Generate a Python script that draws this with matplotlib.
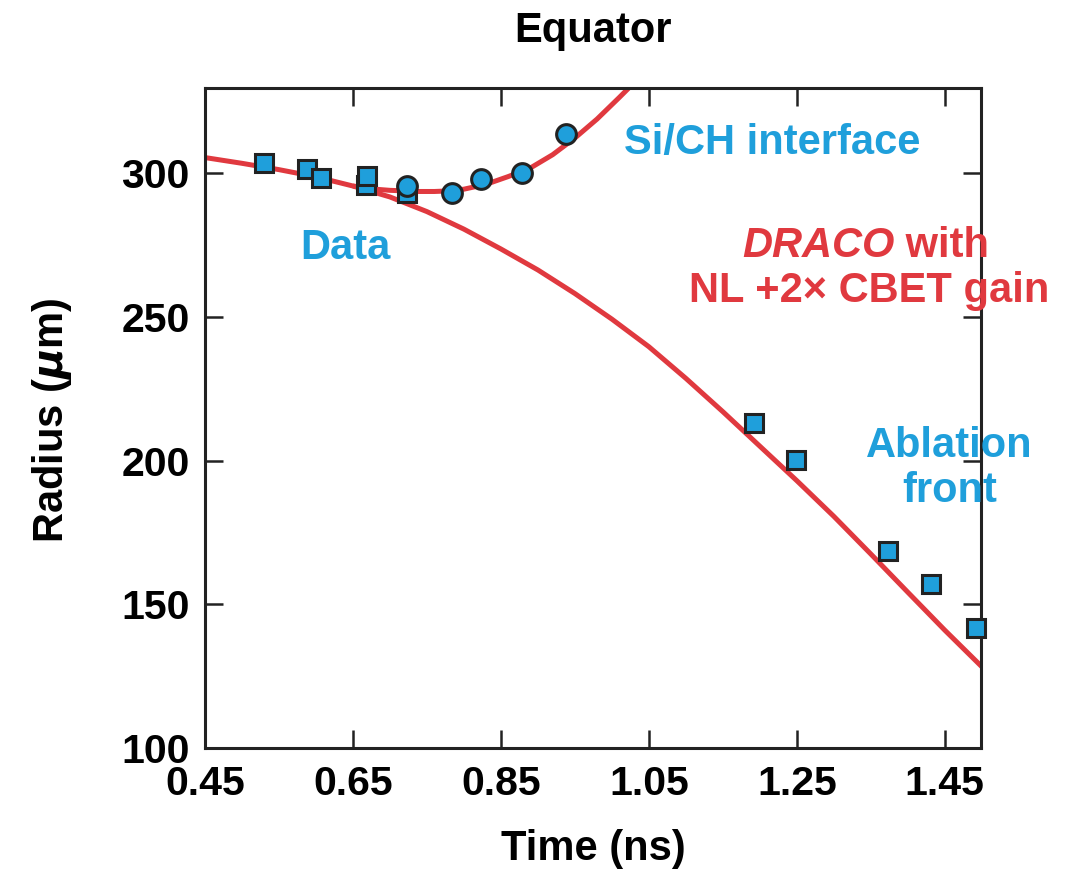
import matplotlib
matplotlib.use("Agg")
import matplotlib.pyplot as plt

# ---- data ----
# DRACO ablation-front curve (ns, um)
model_front_t = [0.45, 0.50, 0.55, 0.60, 0.65, 0.70, 0.75, 0.80, 0.85, 0.90, 0.95,
                 1.00, 1.05, 1.10, 1.15, 1.20, 1.25, 1.30, 1.35, 1.40, 1.45, 1.50]
model_front_r = [305.4, 303.4, 301.2, 298.7, 295.5, 291.7, 286.6, 280.5, 273.6, 266.3, 258.1,
                 249.2, 239.6, 228.6, 217.0, 205.0, 193.0, 180.6, 167.5, 154.2, 141.0, 128.3]
# DRACO Si/CH interface curve
model_int_t = [0.65, 0.68, 0.70, 0.72, 0.74, 0.76, 0.78, 0.80, 0.83, 0.86, 0.89,
               0.92, 0.95, 0.98, 1.01, 1.04]
model_int_r = [295.5, 294.4, 294.0, 293.8, 293.6, 293.6, 293.8, 294.4, 296.1, 298.8, 301.8,
               306.4, 312.2, 318.8, 326.3, 334.0]
# Data: ablation front (squares)
sq_t = [0.530, 0.588, 0.607, 0.668, 0.669, 0.723, 1.192, 1.249, 1.373, 1.432, 1.492]
sq_r = [303.5, 301.4, 298.3, 295.8, 299.0, 293.0, 213.0, 200.2, 168.5, 157.0, 141.7]
# Data: Si/CH interface (circles)
ci_t = [0.723, 0.784, 0.823, 0.878, 0.938]
ci_r = [295.5, 293.0, 297.9, 300.0, 313.6]

xticks = [0.45, 0.65, 0.85, 1.05, 1.25, 1.45]
xticklabels = ["0.45", "0.65", "0.85", "1.05", "1.25", "1.45"]
yticks = [100, 150, 200, 250, 300]
yticklabels = ["100", "150", "200", "250", "300"]

RED = "#E0393F"
BLUE = "#1F9FDB"
EDGE = "#222222"
FONT = ["Liberation Sans", "DejaVu Sans"]

plt.rcParams["font.family"] = FONT
plt.rcParams["font.weight"] = "bold"

fig = plt.figure(figsize=(10.79, 8.75), dpi=100)
W, H = 1079, 875
ax = fig.add_axes([205 / W, 1 - 748 / H, (981 - 205) / W, (748 - 88) / H])

ax.plot(model_front_t, model_front_r, color=RED, lw=3.6, zorder=2, solid_capstyle="butt",
        solid_joinstyle="round")
ax.plot(model_int_t, model_int_r, color=RED, lw=3.6, zorder=2, solid_capstyle="butt",
        solid_joinstyle="round")
ax.plot(sq_t, sq_r, ls="none", marker="s", ms=13.5, mfc=BLUE, mec=EDGE, mew=2.2,
        zorder=3, clip_on=False)
ax.plot(ci_t, ci_r, ls="none", marker="o", ms=14.2, mfc=BLUE, mec=EDGE, mew=2.2,
        zorder=4, clip_on=False)

ax.set_xlim(0.45, 1.499)
ax.set_ylim(100, 329.6)
ax.set_xticks(xticks)
ax.set_xticklabels(xticklabels)
ax.set_yticks(yticks)
ax.set_yticklabels(yticklabels)
ax.tick_params(direction="in", length=13, width=1.8, color=EDGE, top=True, right=True,
               labelsize=29.5)
ax.tick_params(axis="x", pad=12)
ax.tick_params(axis="y", pad=11)
for lab in ax.get_xticklabels() + ax.get_yticklabels():
    lab.set_fontweight("bold")
for sp in ax.spines.values():
    sp.set_linewidth(2.2)
    sp.set_color(EDGE)

# axis labels and title
fig.text(593 / W, 1 - 31 / H, "Equator", ha="center", va="center", fontsize=30,
         fontweight="bold")
fig.text(593 / W, 1 - 849 / H, "Time (ns)", ha="center", va="center", fontsize=30,
         fontweight="bold")
fig.text(52 / W, 1 - 420 / H, r"Radius ($\mu$m)", ha="center", va="center", fontsize=30,
         fontweight="bold", rotation=90)

def px(x, y):
    return (0.45 + (x - 205) / 740.0, 300 + (173 - y) / 2.875)

ax.text(*px(772, 154), "Si/CH interface", color=BLUE, fontsize=30, fontweight="bold",
        ha="center", va="baseline")
ax.text(*px(345, 259), "Data", color=BLUE, fontsize=30, fontweight="bold",
        ha="center", va="baseline")
t1 = ax.text(*px(742, 257), "DRACO", color=RED, fontsize=30, fontweight="bold",
             style="italic", ha="left", va="baseline")
ax.annotate(" with", xy=(1, 0), xycoords=t1, color=RED, fontsize=30, fontweight="bold",
            ha="left", va="bottom")
ax.text(*px(869, 302), "NL +2× CBET gain", color=RED, fontsize=30, fontweight="bold",
        ha="center", va="baseline")
ax.text(*px(950, 457), "Ablation", color=BLUE, fontsize=30, fontweight="bold",
        ha="center", va="baseline")
ax.text(*px(950, 502), "front", color=BLUE, fontsize=30, fontweight="bold",
        ha="center", va="baseline")

fig.savefig("out.png", dpi=100)
